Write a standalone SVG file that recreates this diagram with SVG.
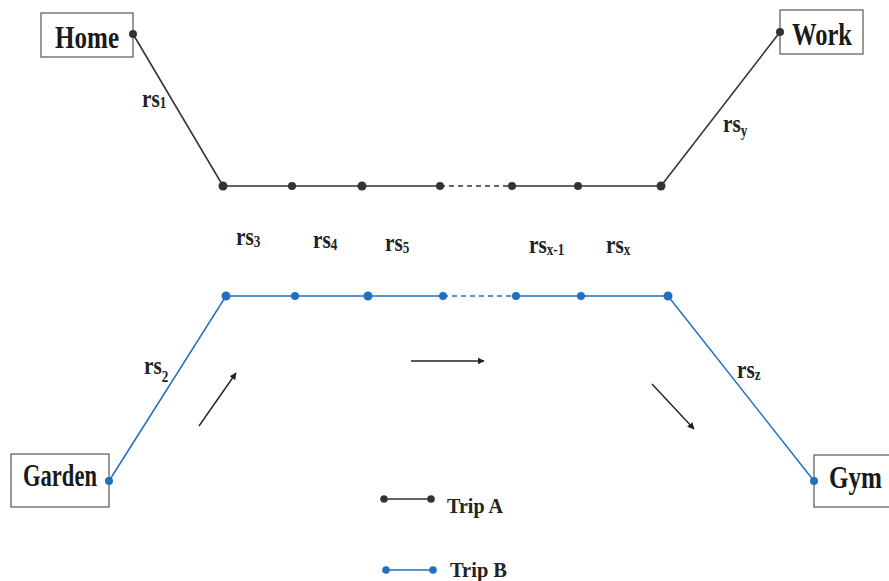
<svg xmlns="http://www.w3.org/2000/svg" width="889" height="581" viewBox="0 0 889 581">
  <style>
    .box { fill: #fff; stroke: #555; stroke-width: 1.2; }
    .place { font-family: "Liberation Serif", "Times New Roman", serif; font-weight: bold; font-size: 31px; fill: #1a1a1a; }
    .lbl { font-family: "Liberation Serif", "Times New Roman", serif; font-weight: bold; font-size: 26px; fill: #222; }
    .sub { font-size: 16px; }
    .leg { font-family: "Liberation Serif", "Times New Roman", serif; font-weight: bold; font-size: 22px; fill: #222; }
    .tripA { stroke: #333; stroke-width: 1.6; fill: none; }
    .tripB { stroke: #1f70c1; stroke-width: 1.5; fill: none; }
    .dotA { fill: #333; }
    .dotB { fill: #1f70c1; }
    .dash { stroke-dasharray: 5 4; }
    .dir { stroke: #222; stroke-width: 1.4; fill: none; marker-end: url(#head); }
  </style>
  <defs>
    <marker id="head" viewBox="0 0 10 10" refX="9" refY="5" markerWidth="7" markerHeight="7" markerUnits="userSpaceOnUse" orient="auto">
      <path d="M0,0 L10,5 L0,10 z" fill="#222"/>
    </marker>
  </defs>

  <!-- place nodes -->
  <g id="home">
    <rect class="box" x="41" y="13" width="92" height="44"/>
    <text class="place" x="55" y="48" textLength="64" lengthAdjust="spacingAndGlyphs">Home</text>
  </g>
  <g id="work">
    <rect class="box" x="780" y="10" width="83" height="44"/>
    <text class="place" x="792" y="45" textLength="60" lengthAdjust="spacingAndGlyphs">Work</text>
  </g>
  <g id="garden">
    <rect class="box" x="11" y="454" width="98" height="53"/>
    <text class="place" x="23" y="486" textLength="74" lengthAdjust="spacingAndGlyphs">Garden</text>
  </g>
  <g id="gym">
    <rect class="box" x="814" y="455" width="80" height="52"/>
    <text class="place" x="829" y="488" textLength="53" lengthAdjust="spacingAndGlyphs">Gym</text>
  </g>

  <!-- connectors -->
  <g id="connectors">
    <!-- Trip A -->
    <polyline class="tripA" points="133,34 223,186 440,186"/>
    <line class="tripA dash" x1="440" y1="186" x2="512" y2="186"/>
    <polyline class="tripA" points="512,186 661,186 780,32"/>
    <!-- Trip B -->
    <polyline class="tripB" points="109,481 226,296 443,296"/>
    <line class="tripB dash" x1="443" y1="296" x2="516" y2="296"/>
    <polyline class="tripB" points="516,296 668,296 814,481"/>

    <!-- stops -->
    <g class="dotA">
      <circle cx="133" cy="34" r="4"/>
      <circle cx="780" cy="32" r="4"/>
      <circle cx="223" cy="186" r="4.5"/>
      <circle cx="292" cy="186" r="4"/>
      <circle cx="362" cy="186" r="4.5"/>
      <circle cx="440" cy="186" r="4"/>
      <circle cx="512" cy="186" r="4"/>
      <circle cx="578" cy="186" r="4"/>
      <circle cx="661" cy="186" r="4.5"/>
    </g>
    <g class="dotB">
      <circle cx="109" cy="481" r="4"/>
      <circle cx="814" cy="481" r="4"/>
      <circle cx="226" cy="296" r="4.5"/>
      <circle cx="295" cy="296" r="4"/>
      <circle cx="368" cy="296" r="4.5"/>
      <circle cx="443" cy="296" r="4"/>
      <circle cx="516" cy="296" r="4"/>
      <circle cx="581" cy="296" r="4"/>
      <circle cx="668" cy="296" r="4.5"/>
    </g>

    <!-- direction of travel -->
    <line class="dir" x1="199" y1="426" x2="236" y2="373"/>
    <line class="dir" x1="411" y1="361" x2="484" y2="361"/>
    <line class="dir" x1="652" y1="384" x2="694" y2="429"/>
  </g>

  <!-- segment labels (slightly condensed serif) -->
  <g id="labels">
    <text class="lbl" transform="translate(142,107) scale(0.82,1)">rs<tspan class="sub" dy="1">1</tspan></text>
    <text class="lbl" transform="translate(723,132) scale(0.82,1)">rs<tspan class="sub" dy="4">y</tspan></text>
    <text class="lbl" transform="translate(236,245) scale(0.82,1)">rs<tspan class="sub" dy="2">3</tspan></text>
    <text class="lbl" transform="translate(313,248) scale(0.82,1)">rs<tspan class="sub" dy="2">4</tspan></text>
    <text class="lbl" transform="translate(385,251) scale(0.82,1)">rs<tspan class="sub" dy="2">5</tspan></text>
    <text class="lbl" transform="translate(529,253) scale(0.82,1)">rs<tspan class="sub" dy="2">x-1</tspan></text>
    <text class="lbl" transform="translate(606,253) scale(0.82,1)">rs<tspan class="sub" dy="2">x</tspan></text>
    <text class="lbl" transform="translate(144,374) scale(0.82,1)">rs<tspan class="sub" dy="8">2</tspan></text>
    <text class="lbl" transform="translate(737,378) scale(0.82,1)">rs<tspan class="sub" dy="2">z</tspan></text>
  </g>

  <!-- legend -->
  <g id="legend">
    <line class="tripA" x1="384" y1="499" x2="431" y2="499"/>
    <circle class="dotA" cx="384" cy="499" r="3.8"/>
    <circle class="dotA" cx="431" cy="499" r="3.8"/>
    <text class="leg" x="447" y="513" textLength="56" lengthAdjust="spacingAndGlyphs">Trip A</text>
    <line class="tripB" x1="386" y1="570" x2="433" y2="570"/>
    <circle class="dotB" cx="386" cy="570" r="3.8"/>
    <circle class="dotB" cx="433" cy="570" r="3.8"/>
    <text class="leg" x="450" y="577" textLength="57" lengthAdjust="spacingAndGlyphs">Trip B</text>
  </g>
</svg>
